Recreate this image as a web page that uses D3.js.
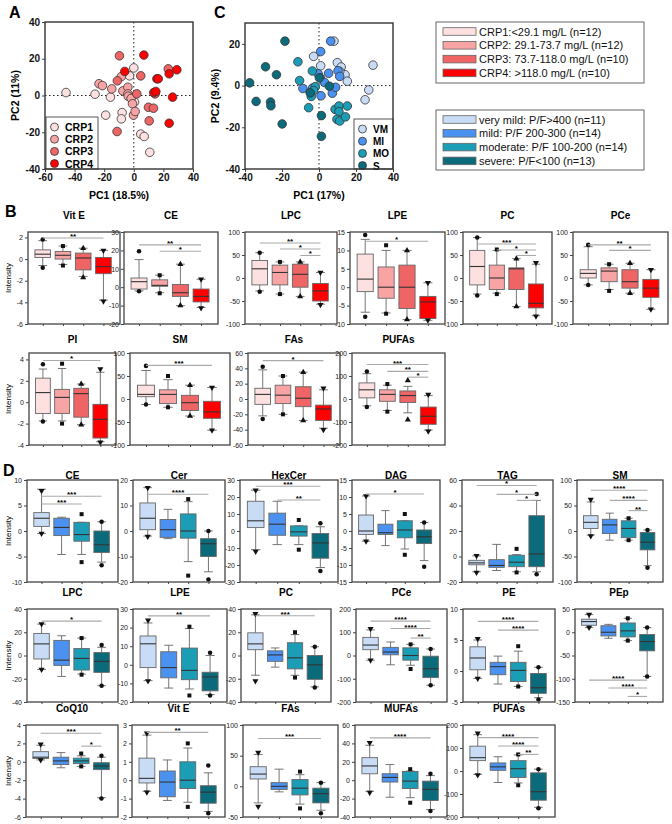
<!DOCTYPE html>
<html><head><meta charset="utf-8">
<script src="https://cdn.jsdelivr.net/npm/d3@7"></script>
<style>body{margin:0;background:#fff} svg{display:block;font-family:Arial,"Liberation Sans",sans-serif}</style>
</head><body><svg id="c" width="672" height="824"></svg>
<script>
// ---------------- DATA ----------------
const crpGroups = ["CRP1","CRP2","CRP3","CRP4"];
const crpLegend = ["CRP1:<29.1 mg/L (n=12)","CRP2: 29.1-73.7 mg/L (n=12)","CRP3: 73.7-118.0 mg/L (n=10)","CRP4: >118.0 mg/L (n=10)"];
const sevGroups = ["VM","MI","MO","S"];
const sevLegend = ["very mild: P/F>400 (n=11)","mild: P/F 200-300 (n=14)","moderate: P/F 100-200 (n=14)","severe: P/F<100 (n=13)"];
const crpColors = ["#fde0e0","#f8a4a4","#ef6464","#ff0000"];
const sevColors = ["#c8dcf6","#4b92f0","#1b9db6","#0c6b7a"];

// PCA A (CRP groups: 0..3)
const pcaAx = [-45.8,-26.2,-15.8,-19,-2.9,0,0.5,-7.9,-8.4,4.7,7,10.8,
  -23.5,-21.2,-14.9,-8.4,-7.4,-4,-4,-3.8,-1.8,-0.9,-0.2,0.9,
  -9.7,-11.1,4.7,2,9.9,13.3,14.4,23.3,-11.3,10.4,
  -6.1,6.8,13.5,14.9,15.6,16.5,23.9,29.1,26.2,23.9];
const pcaAy = [1.6,0.7,-0.9,-10.7,10.7,15,-3.6,-9.3,-12.7,-21,-22.3,-30.9,
  6.4,5.4,3.6,10.3,2.5,4.5,0.9,-0.4,-1.6,-4.5,-10.7,-8.7,
  21.6,8,10.7,0.9,-6.4,-6.9,0.9,14.5,-19.6,-13.8,
  13.1,22,1.6,2.2,9.1,9.1,11.8,14,-0.9,-15.1];
const pcaAg = [0,0,0,0,0,0,0,0,0,0,0,0, 1,1,1,1,1,1,1,1,1,1,1,1, 2,2,2,2,2,2,2,2,2,2, 3,3,3,3,3,3,3,3,3,3];

// PCA C (severity groups: 0..3)
const pcaCx = [-2.9,0.9,8.1,9.9,12,14.1,15.3,29.2,26.9,24.9,11.2,
  6.3,0.9,-0.4,5.2,10.3,11.2,-8.7,1.1,7.2,-4.7,0.7,-3.5,3,9,
  -11.4,-10.5,-3.6,-2,-2.9,-4.2,-5.6,8.7,10.8,15.3,10.8,9.7,11.2,14.3,
  -18.4,-28.9,-23,-37.5,-34,-26.2,-26,-19.9,1.3,1.3,0.2,5.6,-4.7];
const pcaCy = [14,9.5,21.3,11,8.9,5.2,2.1,9.8,-2.1,-6.8,6.8,
  21.3,16.3,5.6,5.9,7.1,4.4,-1.4,-4.9,-3.7,-3.2,3.7,-1.2,1.5,-0.8,
  11.4,2.4,7,-0.5,-2.4,-5.2,-10.6,-11.4,-9.8,-9.8,-12.5,-16.2,-17,-15,
  21.3,9,5.2,1.3,-7.6,-7.9,-9.7,-18.4,-14.4,-24.3,3.7,-0.3,-3.5];
const pcaCg = [0,0,0,0,0,0,0,0,0,0,0, 1,1,1,1,1,1,1,1,1,1,1,1,1,1, 2,2,2,2,2,2,2,2,2,2,2,2,2,2, 3,3,3,3,3,3,3,3,3,3,3,3,3];

// Box stats per group: [min marker, whisker low, Q1, median, Q3, whisker high, max marker]
const bTitles = ["Vit E","CE","LPC","LPE","PC","PCe","PI","SM","FAs","PUFAs"];
const bDomains = [[-6,2.5],[-20,30],[-100,100],[-10,15],[-100,100],[-100,100],[-4,4.6],[-100,100],[-60,60],[-200,200]];
const bTicks = [[-6,-4,-2,0,2],[-20,-10,0,10,20,30],[-100,-50,0,50,100],[-10,-5,0,5,10,15],[-100,-50,0,50,100],[-100,-50,0,50,100],[-4,-2,0,2,4],[-100,-50,0,50,100],[-60,-40,-20,0,20,40,60],[-200,-100,0,100,200]];
const bStats = [
  [[-0.8,-0.6,0.15,0.45,0.85,1.7,1.8],[-0.6,-0.5,0,0.35,0.7,1.2,1.2],[-1.7,-1.6,-1.0,0.1,0.55,1.0,1.0],[-3.9,-3.8,-1.35,-0.7,0.15,0.8,0.8]],
  [[-2.2,-2,-1,3,5,15,19.5],[-3.3,-3,0.5,1,4,6.5,6.5],[-10,-10,-5,-3,1.5,12.5,12.5],[-11.3,-11,-8,-5,-1,4.3,4.3]],
  [[-30,-28,-15,20,38,55,55],[-35,-35,-15,12,28,35,35],[-40,-40,-20,8,30,35,35],[-58,-57,-50,-28,-12,12,12]],
  [[-8,-6.8,-1.2,2.2,9,13,14.2],[-7.2,-7,-3,0,5.5,10,11.4],[-8.8,-8.8,-5.8,0,6,10,10],[-9,-9,-8.5,-4,-2.5,1.2,1.2]],
  [[-38,-35,-15,25,60,88,88],[-35,-33,-25,0,28,60,62],[-62,-62,-25,20,22,42,42],[-83,-82,-65,-55,-13,30,33]],
  [[-15,-15,0,10,18,68,72],[-28,-25,-8,15,22,30,30],[-33,-33,-22,-8,18,32,32],[-68,-68,-42,-22,-3,18,18]],
  [[-1.8,-1.75,-1.05,0.9,2.25,3.1,3.55],[-2.0,-1.75,-1.05,0.45,1.2,3.15,3.6],[-2.1,-2.1,-1.4,0.8,1.3,1.7,1.7],[-3.75,-3.7,-3.35,-1.6,-0.2,2.8,3.1]],
  [[-12,-12,5,10,30,62,72],[-18,-18,-10,10,20,42,50],[-37,-37,-25,-8,8,30,30],[-68,-68,-42,-28,-5,25,25]],
  [[-26,-22,-7,6,14,38,42],[-20,-20,-6,5,18,30,30],[-28,-28,-10,1,16,35,35],[-40,-38,-28,-13,-8,12,14]],
  [[-35,-30,5,40,70,110,120],[-55,-50,-10,20,40,60,65],[-90,-60,-15,15,35,55,80],[-140,-135,-110,-75,-35,15,20]]
];
const bSig = [
  [[0,3,1.95,"**"]],
  [[0,3,23,"**"],[1,3,19.5,"*"]],
  [[0,3,76,"**"],[1,3,63,"*"],[2,3,49,"*"]],
  [[0,3,12.5,"*"]],
  [[0,3,74,"***"],[1,3,61,"*"],[2,3,49,"*"]],
  [[0,3,72,"**"],[1,3,60,"*"]],
  [[0,3,3.9,"*"]],
  [[0,3,73,"***"]],
  [[0,3,50,"*"]],
  [[0,3,150,"***"],[1,3,120,"**"],[2,3,95,"*"]]
];

const dTitles = ["CE","Cer","HexCer","DAG","TAG","SM","LPC","LPE","PC","PCe","PE","PEp","CoQ10","Vit E","FAs","MUFAs","PUFAs"];
const dDomains = [[-10,10],[-20,20],[-30,30],[-15,15],[-20,60],[-100,100],[-40,40],[-20,30],[-40,40],[-200,200],[-5,10],[-150,50],[-6,4],[-2,3],[-50,100],[-40,60],[-200,200]];
const dTicks = [[-10,-5,0,5,10],[-20,-10,0,10,20],[-30,-20,-10,0,10,20,30],[-15,-10,-5,0,5,10,15],[-20,0,20,40,60],[-100,-50,0,50,100],[-40,-20,0,20,40],[-20,-10,0,10,20,30],[-40,-20,0,20,40],[-200,-100,0,100,200],[-5,0,5,10],[-150,-100,-50,0,50],[-6,-4,-2,0,2,4],[-2,-1,0,1,2,3],[-50,0,50,100],[-40,-20,0,20,40,60],[-200,-100,0,100,200]];
const dStats = [
  [[-0.5,-0.5,0.9,2.5,3.6,8.2,7.9],[null,-4.6,-0.9,0.7,2.5,2.7,null],[-6.1,-4.6,-2,-0.7,1.7,1.7,3.3],[-6.7,-6.1,-4.2,-2.7,0,1.8,1.8]],
  [[-2.2,-2,0.5,5,11,17,17],[null,-3,-2.5,0.5,4.5,8.5,null],[-17.5,-12,-2.8,0,6.7,11.5,12.5],[-19,-16,-10,-5,-3,0,0]],
  [[-12,-11,2,6,17.5,24,24],[null,-8,-2.5,4,10.5,17.5,null],[-11,-8,-3,-0.5,3,3,6.5],[-23.5,-21.5,-16,-7,-1.5,2.5,4.5]],
  [[-3,-3,-1,0,4.7,10.3,10.3],[null,-4.3,-1,-0.5,2,6,null],[-7,-5.3,-2,0.3,3,3,5],[-10.5,-8.7,-3.7,-1.7,0.3,2.5,2.5]],
  [[-12.5,-12,-6.5,-5,-3,0.5,0.5],[null,-11,-8.5,-7,-2.5,9.5,null],[-12.5,-12,-8,-4.5,1,1.5,6],[-14,-12,-8,2,32,44,49]],
  [[-10,-8,5,17,30,57,62],[null,-18,-5,12,23,35,null],[-18,-18,-13,5,20,25,25],[-72,-68,-37,-22,-3,2,2]],
  [[-12,-12,-3,10,19,27,27],[null,-18,-8.5,-4,13,17,null],[-16.5,-16,-12.5,-2.5,6,15,15],[-26,-26,-14.5,-5,2.5,7,9]],
  [[-8.7,-8.5,-1.5,11.3,15.5,22.5,24],[null,-12.5,-7,-1.5,7,10.5,null],[-16.5,-13,-8,-3,9,19.5,20.5],[-16.5,-16,-14,-6.5,-4,5,6.5]],
  [[-22,-17,5,10,19.5,35,36],[null,-10,-5,0.5,4,6.5,null],[-19,-17,-11.5,-2,11,18,20],[-27.5,-27,-20.5,-8,0,7.5,7.5]],
  [[-20,-20,25,45,78,110,115],[null,-40,3,15,35,58,null],[-58,-42,-20,0,33,48,48],[-128,-128,-95,-57,-3,28,28]],
  [[-1.2,-1.2,0.2,2.1,3.9,5,5.2],[null,-2.1,-0.6,0.7,1.4,2.4,null],[-2.5,-2.5,-1.7,0.1,1.4,3.2,4],[-4.6,-4.3,-3.6,-2.7,-0.4,0.6,0.6]],
  [[10,10,15,23,28,38,38],[null,-13,-8,0,14,17,null],[-18,-18,-10,3,20,30,30],[-95,-95,-40,-20,-5,10,10]],
  [[0.2,0.2,0.35,0.5,1.1,1.8,1.9],[null,-0.65,-0.3,0.1,0.5,1.0,null],[-0.5,-0.5,-0.2,0.1,0.4,0.65,0.9],[-4.0,-3.9,-0.85,-0.45,-0.1,0.5,0.65]],
  [[-0.65,-0.6,-0.15,0.1,1.2,2.45,2.55],[null,-1.1,-0.9,-0.1,0.5,1.1,null],[-1.45,-1.2,-0.45,0,1.0,1.75,2.0],[-1.8,-1.7,-1.25,-0.65,-0.3,0.4,0.8]],
  [[-33,-27,12,20,32,52,55],[null,-9,-5,0,6,28,null],[-36,-29,-14,-3,11,19,24],[-44,-39,-27,-12,-3,6,6]],
  [[-13.5,-12,7,15.5,24.5,38,40.7],[null,-18.5,-2,3,7,17,null],[-24.5,-19,-9,-1,9.5,10,12],[-33.5,-32,-22,-10,-1,5,7]],
  [[-17,-15,45,58,108,158,164],[null,-50,3,18,35,62,null],[-62,-52,-28,10,45,70,72],[-162,-158,-127,-90,-8,8,8]]
];
const dSig = [
  [[0,3,6.8,"***"],[0,2,5.3,"***"]],
  [[0,3,14.4,"****"]],
  [[0,3,26.3,"***"],[1,3,18.2,"**"]],
  [[0,3,10.9,"*"]],
  [[0,3,55.7,"*"],[1,3,48.7,"*"],[2,3,44,"*"]],
  [[0,3,80,"****"],[1,3,60,"****"],[2,3,40,"**"]],
  [[0,3,29.6,"*"]],
  [[0,3,26.3,"**"]],
  [[0,3,34.2,"***"]],
  [[0,3,148,"****"],[1,3,116,"****"],[2,3,75,"**"]],
  [[0,3,8,"****"],[1,3,6.6,"****"]],
  [[0,3,-103,"****"],[1,3,-120,"****"],[2,3,-138,"*"]],
  [[0,3,3.1,"***"],[2,3,1.7,"*"]],
  [[0,3,2.6,"**"]],
  [[0,3,78,"***"]],
  [[0,3,46,"****"]],
  [[0,3,145,"****"],[1,3,109,"****"],[2,3,72,"**"]]
];

// ---------------- DRAW ----------------
const svg = d3.select("#c");
const FONT = 'Arial,"Liberation Sans",sans-serif';
const triDown = {draw(ctx,size){const s=Math.sqrt(size/(Math.sqrt(3)/4)); const h=s*Math.sqrt(3)/2; ctx.moveTo(0,h*2/3); ctx.lineTo(s/2,-h/3); ctx.lineTo(-s/2,-h/3); ctx.closePath();}};
const bSyms = [d3.symbolCircle,d3.symbolSquare,d3.symbolTriangle,triDown];
const dSyms = [triDown,d3.symbolDiamond,d3.symbolSquare,d3.symbolCircle];

function letter(t,x,y){ svg.append("text").attr("x",x).attr("y",y).attr("font-size",16).attr("font-weight","bold").attr("font-family",FONT).text(t); }

function boxPanel(x0,x1,y0,y1,titleY,title,dom,ticks,stats,sig,cols,syms,ylab){
  const g = svg.append("g");
  const w = x1-x0;
  const y = d3.scaleLinear().domain(dom).range([y1,y0]);
  const x = d3.scalePoint().domain([0,1,2,3]).range([x0+0.16*w, x0+0.82*w]);
  const bw = 0.17*w;
  g.append("text").attr("x",(x0+x1)/2).attr("y",titleY).attr("text-anchor","middle")
    .attr("font-size",10).attr("font-weight","bold").attr("font-family",FONT).text(title);
  const ax = g.append("g").attr("transform",`translate(${x0},0)`)
    .call(d3.axisLeft(y).tickValues(ticks).tickSize(3).tickPadding(2).tickFormat(d=>String(d)));
  ax.select(".domain").remove();
  ax.selectAll("line").attr("stroke","#444");
  ax.selectAll("text").attr("font-size",7).attr("font-family",FONT).attr("fill","#222");
  const bx = g.append("g").attr("transform",`translate(0,${y1})`)
    .call(d3.axisBottom(x).tickSize(2).tickFormat(""));
  bx.select(".domain").remove(); bx.selectAll("line").attr("stroke","#444");
  if(ylab){
    g.append("text").attr("transform",`translate(11,${(y0+y1)/2}) rotate(-90)`).attr("text-anchor","middle")
      .attr("font-size",8).attr("font-family",FONT).text("Intensity");
  }
  stats.forEach((s,i)=>{
    const cx = x(i);
    const [mn,wl,q1,md,q3,wh,mx] = s;
    const gg = g.append("g");
    gg.append("line").attr("x1",cx).attr("x2",cx).attr("y1",y(wl)).attr("y2",y(q1)).attr("stroke","#666").attr("stroke-width",0.9);
    gg.append("line").attr("x1",cx).attr("x2",cx).attr("y1",y(q3)).attr("y2",y(wh)).attr("stroke","#666").attr("stroke-width",0.9);
    [wl,wh].forEach(v=>gg.append("line").attr("x1",cx-bw*0.28).attr("x2",cx+bw*0.28).attr("y1",y(v)).attr("y2",y(v)).attr("stroke","#666").attr("stroke-width",0.9));
    gg.append("rect").attr("x",cx-bw/2).attr("y",y(q3)).attr("width",bw).attr("height",Math.max(0.5,y(q1)-y(q3)))
      .attr("fill",cols[i]).attr("stroke","#666").attr("stroke-width",0.9);
    gg.append("line").attr("x1",cx-bw/2).attr("x2",cx+bw/2).attr("y1",y(md)).attr("y2",y(md)).attr("stroke","#333").attr("stroke-width",1.1);
    [mn,mx].forEach(v=>{ if(v!==null) gg.append("path").attr("d",d3.symbol(syms[i],16)()).attr("transform",`translate(${cx},${y(v)})`).attr("fill","#111"); });
  });
  sig.forEach(([a,b,v,lab])=>{
    g.append("line").attr("x1",x(a)).attr("x2",x(b)).attr("y1",y(v)).attr("y2",y(v)).attr("stroke","#aaa").attr("stroke-width",1.1);
    g.append("text").attr("x",(x(a)+x(b))/2).attr("y",y(v)+1).attr("text-anchor","middle")
      .attr("font-size",8).attr("font-weight","bold").attr("font-family",FONT).text(lab);
  });
  g.append("rect").attr("x",x0).attr("y",y0).attr("width",w).attr("height",y1-y0)
    .attr("fill","none").attr("stroke","#444").attr("stroke-width",1.3);
}

function scatter(x0,x1,y0,y1,xd,yd,xt,yt,xs,ys,gs,cols,xlab,ylab,ylabX,legBox,legNames){
  const g = svg.append("g");
  const x = d3.scaleLinear().domain(xd).range([x0,x1]);
  const y = d3.scaleLinear().domain(yd).range([y1,y0]);
  const ax = g.append("g").attr("transform",`translate(0,${y1})`).call(d3.axisBottom(x).tickValues(xt).tickSize(3).tickPadding(2).tickFormat(d=>String(d)));
  const ay = g.append("g").attr("transform",`translate(${x0},0)`).call(d3.axisLeft(y).tickValues(yt).tickSize(3).tickPadding(2).tickFormat(d=>String(d)));
  [ax,ay].forEach(a=>{a.select(".domain").remove(); a.selectAll("line").attr("stroke","#444"); a.selectAll("text").attr("font-size",10).attr("font-weight","bold").attr("font-family",FONT).attr("fill","#111");});
  g.append("line").attr("x1",x0).attr("x2",x1).attr("y1",y(0)).attr("y2",y(0)).attr("stroke","#222").attr("stroke-dasharray","1.5,2.5");
  g.append("line").attr("x1",x(0)).attr("x2",x(0)).attr("y1",y0).attr("y2",y1).attr("stroke","#222").attr("stroke-dasharray","1.5,2.5");
  xs.forEach((v,i)=>{
    g.append("circle").attr("cx",x(v)).attr("cy",y(ys[i])).attr("r",4.3).attr("fill",cols[gs[i]]).attr("stroke","#333").attr("stroke-width",0.8);
  });
  // legend
  const [lx,ly,lw,lh,fs] = legBox;
  g.append("rect").attr("x",lx).attr("y",ly).attr("width",lw).attr("height",lh).attr("fill","#fff").attr("stroke","#555").attr("stroke-width",1);
  legNames.forEach((n,i)=>{
    const yy = ly+10+i*12.2;
    g.append("circle").attr("cx",lx+8.5).attr("cy",yy).attr("r",4).attr("fill",cols[i]).attr("stroke","#333").attr("stroke-width",0.8);
    g.append("text").attr("x",lx+19).attr("y",yy+4).attr("font-size",fs).attr("font-weight","bold").attr("font-family",FONT).text(n);
  });
  g.append("rect").attr("x",x0).attr("y",y0).attr("width",x1-x0).attr("height",y1-y0).attr("fill","none").attr("stroke","#333").attr("stroke-width",1.4);
  g.append("text").attr("x",(x0+x1)/2).attr("y",199).attr("text-anchor","middle").attr("font-size",10.5).attr("font-weight","bold").attr("font-family",FONT).text(xlab);
  g.append("text").attr("transform",`translate(${ylabX},${(y0+y1)/2}) rotate(-90)`).attr("text-anchor","middle").attr("font-size",10.5).attr("font-weight","bold").attr("font-family",FONT).text(ylab);
}

letter("A",9,18); letter("C",214,18); letter("B",5,217); letter("D",3,476);

scatter(45,193,22,169,[-60,40],[-40,40],[-60,-40,-20,0,20,40],[-40,-20,0,20,40],pcaAx,pcaAy,pcaAg,crpColors,"PC1 (18.5%)","PC2 (11%)",19,[46,117,52,52,10.5],crpGroups);
scatter(245,393,23,169,[-40,40],[-40,30],[-40,-20,0,20,40],[-40,-20,0,20],pcaCx,pcaCy,pcaCg,sevColors,"PC1 (17%)","PC2 (9.4%)",219,[354,119,39,50,10],sevGroups);

// legends
function boxLegend(x,y,w,h,names,cols){
  svg.append("rect").attr("x",x).attr("y",y).attr("width",w).attr("height",h).attr("fill","#fff").attr("stroke","#666").attr("stroke-width",1);
  names.forEach((n,i)=>{
    const yy = y+9.5+i*13.8;
    svg.append("rect").attr("x",x+7).attr("y",yy-3.8).attr("width",33).attr("height",7.6).attr("fill",cols[i]).attr("stroke","#666").attr("stroke-width",0.8);
    svg.append("text").attr("x",x+43).attr("y",yy+4).attr("font-size",11).attr("font-family",FONT).attr("fill","#111").text(n);
  });
}
boxLegend(436,22,208,61,crpLegend,crpColors);
boxLegend(436,110,208,60,sevLegend,sevColors);

// B panels
const bLayout = [
  {top:232,bot:324,ty:219,L:[28,124,245,350,463,573],R:[120,218,337,445,552,668]},
  {top:353,bot:445,ty:343,L:[29,130,248,352],R:[116,230,340,445]}
];
let k=0;
bLayout.forEach(r=>{ r.L.forEach((l,j)=>{ boxPanel(l,r.R[j],r.top,r.bot,r.ty,bTitles[k],bDomains[k],bTicks[k],bStats[k],bSig[k],crpColors,bSyms,j===0); k++; }); });

const dLayout = [
  {top:480,bot:582,ty:479,L:[27,133,240,352,462,577],R:[118,225,338,440,553,663]},
  {top:609,bot:702,ty:596,L:[27,133,241,356,463,575],R:[118,227,331,447,555,663]},
  {top:725,bot:817,ty:712,L:[26,132,243,355,463],R:[118,225,338,447,555]}
];
k=0;
dLayout.forEach(r=>{ r.L.forEach((l,j)=>{ boxPanel(l,r.R[j],r.top,r.bot,r.ty,dTitles[k],dDomains[k],dTicks[k],dStats[k],dSig[k],sevColors,dSyms,j===0); k++; }); });
</script></body></html>
